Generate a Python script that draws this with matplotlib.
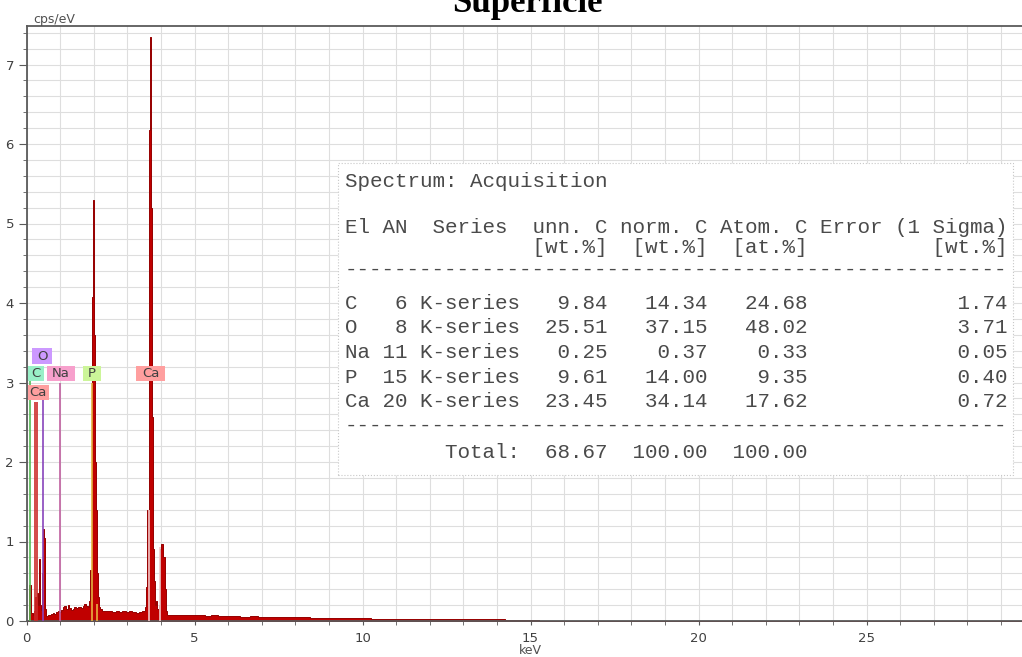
import matplotlib
matplotlib.use("Agg")
import matplotlib.pyplot as plt
from matplotlib.patches import Rectangle
from matplotlib.ticker import MultipleLocator

# EDS spectrum, energy (keV) vs intensity (cps/eV)
energy_kev = [
    0.00, 0.05, 0.08, 0.12, 0.16, 0.20, 0.24, 0.28, 0.32, 0.35, 0.38, 0.41,
    0.44, 0.47, 0.50, 0.53, 0.55, 0.58, 0.61, 0.65, 0.70, 0.75, 0.80, 0.85,
    0.90, 0.95, 1.00, 1.05, 1.10, 1.15, 1.20, 1.25, 1.30, 1.35, 1.40, 1.45,
    1.50, 1.55, 1.60, 1.65, 1.70, 1.75, 1.80, 1.85, 1.88, 1.91, 1.94, 1.96,
    1.99, 2.02, 2.05, 2.08, 2.11, 2.14, 2.18, 2.22, 2.30, 2.40, 2.50, 2.60,
    2.70, 2.80, 2.90, 3.00, 3.10, 3.20, 3.30, 3.40, 3.50, 3.55, 3.58, 3.62,
    3.66, 3.69, 3.71, 3.73, 3.76, 3.79, 3.82, 3.85, 3.88, 3.91, 3.95, 3.99,
    4.04, 4.09, 4.14, 4.17, 4.20, 4.30, 4.40, 4.50, 4.60, 4.80, 5.00, 5.20,
    5.40, 5.60, 5.80, 6.00, 6.20, 6.50, 6.80, 7.00, 7.30, 7.60, 8.00, 8.30,
    8.60, 9.00, 9.50, 10.0, 10.5, 11.0, 11.5, 12.0, 12.5, 13.0, 13.5, 14.0,
    14.5, 15.0, 15.5, 16.0, 29.7,
]
cps_per_ev = [
    0.00, 0.00, 0.45, 0.45, 0.10, 0.08, 0.12, 0.30, 0.35, 0.20, 0.78, 0.20,
    0.14, 0.60, 1.16, 1.05, 0.70, 0.15, 0.06, 0.07, 0.08, 0.09, 0.10, 0.09,
    0.11, 0.12, 0.11, 0.14, 0.17, 0.19, 0.15, 0.20, 0.16, 0.14, 0.15, 0.17,
    0.16, 0.17, 0.18, 0.16, 0.19, 0.21, 0.19, 0.18, 0.25, 0.64, 0.30, 4.08,
    5.29, 3.60, 2.00, 1.40, 0.60, 0.30, 0.17, 0.15, 0.13, 0.12, 0.13, 0.11,
    0.12, 0.11, 0.12, 0.11, 0.12, 0.11, 0.10, 0.11, 0.12, 0.18, 0.43, 1.40,
    6.18, 7.35, 7.02, 5.20, 2.57, 0.90, 0.50, 0.20, 0.25, 0.15, 0.20, 0.90,
    0.97, 0.80, 0.40, 0.12, 0.08, 0.07, 0.08, 0.07, 0.07, 0.08, 0.07, 0.07,
    0.06, 0.07, 0.06, 0.06, 0.06, 0.05, 0.06, 0.05, 0.05, 0.045, 0.05, 0.045,
    0.04, 0.04, 0.035, 0.035, 0.03, 0.03, 0.03, 0.03, 0.028, 0.025, 0.025, 0.02,
    0.012, 0.008, 0.004, 0.0, 0.0,
]

# element marker lines: energy, visible height, colour
line_energy = [0.09, 0.25, 0.30, 0.48, 1.00, 1.94, 2.09, 3.65, 3.97]
line_top = [3.02, 2.76, 2.76, 2.78, 3.00, 3.00, 0.22, 1.40, 0.93]
line_color = ['#55bb55', '#cc2a2a', '#cc2a2a', '#8844bb', '#c060a0',
              '#e8b040', '#e8b040', '#f2c8c8', '#f2c8c8']

# element label boxes: text, left/right (keV), bottom/top (cps/eV), colour
label_text = ['O', 'C', 'Na', 'P', 'Ca', 'Ca']
label_x0 = [0.16, 0.03, 0.62, 1.68, 3.26, 0.03]
label_x1 = [0.77, 0.52, 1.44, 2.22, 4.12, 0.67]
label_y0 = [3.23, 3.02, 3.02, 3.02, 3.02, 2.78]
label_y1 = [3.43, 3.21, 3.21, 3.21, 3.21, 2.97]
label_color = ['#cc99ff', '#99f0c8', '#f7a0cc', '#ccf599', '#ff9f9f', '#ff9f9f']

# quantification table
elements = ['C', 'O', 'Na', 'P', 'Ca']
atomic_no = [6, 8, 11, 15, 20]
unn_c = [9.84, 25.51, 0.25, 9.61, 23.45]
norm_c = [14.34, 37.15, 0.37, 14.00, 34.14]
atom_c = [24.68, 48.02, 0.33, 9.35, 17.62]
error_1s = [1.74, 3.71, 0.05, 0.40, 0.72]
totals = [68.67, 100.00, 100.00]

W, H = 1022, 657
fig = plt.figure(figsize=(W / 100, H / 100), dpi=100)
ax = fig.add_axes([26.5 / W, (H - 621) / H, (W - 26.5) / W, (621 - 26) / H])

ax.fill_between(energy_kev, cps_per_ev, step='mid', facecolor='#c00000',
                edgecolor='#960000', linewidth=0.7, zorder=2)

for e, top, c in zip(line_energy, line_top, line_color):
    ax.plot([e, e], [0, top], color=c, lw=1.2, zorder=3, solid_capstyle='butt')

for t, x0, x1, y0, y1, c in zip(label_text, label_x0, label_x1,
                                label_y0, label_y1, label_color):
    ax.add_patch(Rectangle((x0, y0), x1 - x0, y1 - y0, facecolor=c,
                           edgecolor='none', zorder=4))
    ax.text((x0 + x1) / 2, (y0 + y1) / 2, t, ha='center', va='center',
            fontsize=9.5, color='#404040', zorder=5)

ax.set_xlim(0, (W - 26.5) / 33.6)
ax.set_ylim(0, (621 - 26) / 79.5)
ax.xaxis.set_major_locator(MultipleLocator(5))
ax.xaxis.set_minor_locator(MultipleLocator(1))
ax.yaxis.set_major_locator(MultipleLocator(1))
ax.yaxis.set_minor_locator(MultipleLocator(0.2))
ax.grid(which='both', color='#dedede', lw=0.8, zorder=0)
ax.set_axisbelow(True)

for side in ['left', 'bottom', 'top']:
    ax.spines[side].set_color('#5a5a5a')
    ax.spines[side].set_linewidth(1.3)
ax.spines['right'].set_visible(False)
ax.tick_params(which='both', direction='out', colors='#5a5a5a',
               labelcolor='#404040', labelsize=9.5)
ax.tick_params(axis='y', which='major', length=5.5)
ax.tick_params(axis='y', which='minor', length=3)
ax.tick_params(axis='x', which='both', length=3)
ax.tick_params(axis='x', pad=5)

fig.text(33 / W, 1 - 19 / H, 'cps/eV', ha='left', va='center',
         fontsize=9, color='#505050')
fig.text(530 / W, 1 - 650 / H, 'keV', ha='center', va='center',
         fontsize=9, color='#505050')
fig.text(527 / W, 1 - 12 / H, 'Superficie', ha='center', va='baseline',
         fontsize=25, fontweight='bold', family='Liberation Serif')

# results panel
ax.add_patch(Rectangle((338 / W, 1 - 475 / H), (1013 - 338) / W,
                       (475 - 163) / H, transform=fig.transFigure,
                       facecolor='white', edgecolor='#c8c8c8', lw=0.8,
                       linestyle=':', zorder=6, clip_on=False))

rows = ['Spectrum: Acquisition',
        'El AN  Series  unn. C norm. C Atom. C Error (1 Sigma)',
        ' ' * 15 + '[wt.%]  [wt.%]  [at.%]' + ' ' * 10 + '[wt.%]',
        '-' * 53]
for el, an, u, n, a, er in zip(elements, atomic_no, unn_c, norm_c,
                               atom_c, error_1s):
    rows.append(f'{el:<2} {an:>2} K-series{u:>7.2f}{n:>8.2f}{a:>8.2f}{er:>16.2f}')
rows.append('-' * 53)
rows.append(' ' * 8 + 'Total:' + f'{totals[0]:>7.2f}'
            f'{totals[1]:>8.2f}{totals[2]:>8.2f}')
baselines = [187, 233, 253, 275, 309, 333, 358, 383, 407, 431, 458]
for txt, yb in zip(rows, baselines):
    fig.text(345 / W, 1 - yb / H, txt, ha='left', va='baseline',
             family='Liberation Mono', fontsize=15, color='#4a4a4a',
             zorder=7)

fig.savefig('out.png', dpi=100)
